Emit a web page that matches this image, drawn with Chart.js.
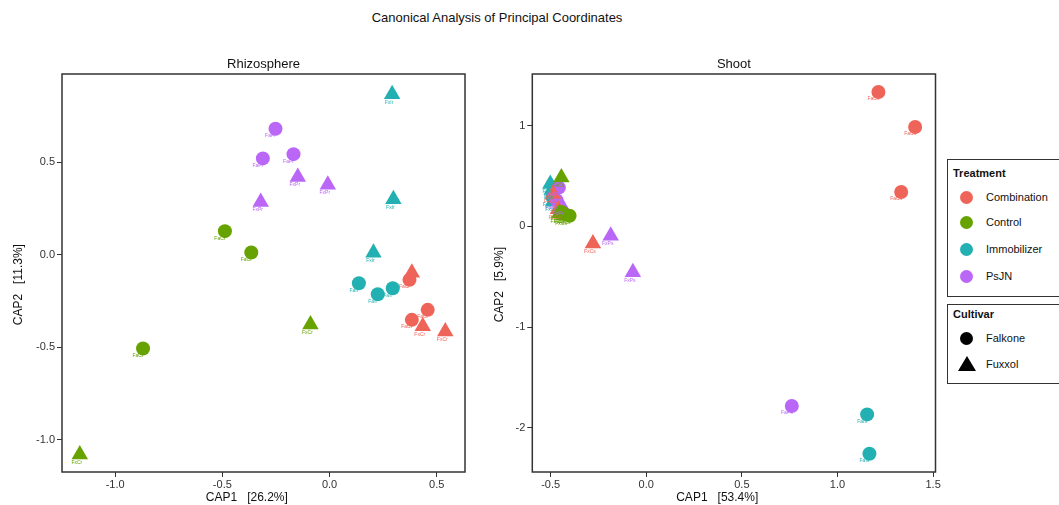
<!DOCTYPE html>
<html>
<head>
<meta charset="utf-8">
<script src="https://cdn.jsdelivr.net/npm/chart.js@4/dist/chart.umd.min.js"></script>
<style>
body { margin:0; width:1059px; height:505px; overflow:hidden; background:#fff; position:relative; font-family:"Liberation Sans", Arial, sans-serif; color:#111; }
#main { position:absolute; top:10px; left:0; width:994px; text-align:center; font-size:13px; }
canvas { position:absolute; top:40px; }
#rhizo { left:0; }
#shoot { left:480px; }
.box { position:absolute; left:947px; width:130px; border:1px solid #333; font-size:11px; }
.box b { position:absolute; left:5px; font-size:11px; }
.item { position:absolute; left:38px; }
.dot { position:absolute; left:12px; width:13px; height:13px; border-radius:50%; }
.tri { position:absolute; left:10px; width:0; height:0; border-left:9px solid transparent; border-right:9px solid transparent; border-bottom:15px solid #000; }
</style>
</head>
<body>
<div id="main">Canonical Analysis of Principal Coordinates</div>
<canvas id="rhizo" width="475" height="465"></canvas>
<canvas id="shoot" width="465" height="465"></canvas>

<div class="box" style="top:159px;height:136px;">
  <b style="top:7px;">Treatment</b>
  <div class="dot" style="top:31px;background:#EF6459"></div><div class="item" style="top:31px;">Combination</div>
  <div class="dot" style="top:56px;background:#66A200"></div><div class="item" style="top:56px;">Control</div>
  <div class="dot" style="top:83px;background:#22B0B2"></div><div class="item" style="top:83px;">Immobilizer</div>
  <div class="dot" style="top:110px;background:#BA66F7"></div><div class="item" style="top:110px;">PsJN</div>
</div>
<div class="box" style="top:304px;height:78px;">
  <b style="top:3px;">Cultivar</b>
  <div class="dot" style="top:27px;background:#000"></div><div class="item" style="top:27px;">Falkone</div>
  <div class="tri" style="top:51px;"></div><div class="item" style="top:53px;">Fuxxol</div>
</div>

<script>
var treatments = ['Combination', 'Control', 'Immobilizer', 'PsJN'];
var colours = ['#EF6459', '#66A200', '#22B0B2', '#BA66F7'];

// Rhizosphere
var rhizoX = [0.373, 0.384, 0.458, 0.384, 0.435, 0.540,
              -0.488, -0.365, -0.870, -0.089, -1.165,
              0.137, 0.225, 0.295, 0.292, 0.298, 0.205,
              -0.252, -0.311, -0.168, -0.148, -0.008, -0.321];
var rhizoY = [-0.135, -0.351, -0.297, -0.097, -0.385, -0.414,
              0.128, 0.013, -0.506, -0.376, -1.079,
              -0.153, -0.213, -0.180, 0.868, 0.300, 0.011,
              0.681, 0.521, 0.544, 0.420, 0.379, 0.285];
var rhizoTrt = ['Combination', 'Combination', 'Combination', 'Combination', 'Combination', 'Combination',
                'Control', 'Control', 'Control', 'Control', 'Control',
                'Immobilizer', 'Immobilizer', 'Immobilizer', 'Immobilizer', 'Immobilizer', 'Immobilizer',
                'PsJN', 'PsJN', 'PsJN', 'PsJN', 'PsJN', 'PsJN'];
var rhizoCul = ['Falkone', 'Falkone', 'Falkone', 'Fuxxol', 'Fuxxol', 'Fuxxol',
                'Falkone', 'Falkone', 'Falkone', 'Fuxxol', 'Fuxxol',
                'Falkone', 'Falkone', 'Falkone', 'Fuxxol', 'Fuxxol', 'Fuxxol',
                'Falkone', 'Falkone', 'Falkone', 'Fuxxol', 'Fuxxol', 'Fuxxol'];

// Shoot
var shootX = [1.214, 1.406, 1.333, -0.279, -0.488, -0.462,
              -0.444, -0.427, -0.401, -0.444, -0.455, -0.430,
              1.155, 1.167, -0.490, -0.502, -0.488, -0.495,
              0.761, -0.457, -0.470, -0.186, -0.070, -0.444];
var shootY = [1.334, 0.987, 0.341, -0.170, 0.320, 0.170,
              0.142, 0.120, 0.105, 0.485, 0.130, 0.110,
              -1.868, -2.258, 0.290, 0.420, 0.245, 0.360,
              -1.785, 0.384, 0.260, -0.093, -0.457, 0.210];
var shootTrt = ['Combination', 'Combination', 'Combination', 'Combination', 'Combination', 'Combination',
                'Control', 'Control', 'Control', 'Control', 'Control', 'Control',
                'Immobilizer', 'Immobilizer', 'Immobilizer', 'Immobilizer', 'Immobilizer', 'Immobilizer',
                'PsJN', 'PsJN', 'PsJN', 'PsJN', 'PsJN', 'PsJN'];
var shootCul = ['Falkone', 'Falkone', 'Falkone', 'Fuxxol', 'Fuxxol', 'Fuxxol',
                'Falkone', 'Falkone', 'Falkone', 'Fuxxol', 'Fuxxol', 'Fuxxol',
                'Falkone', 'Falkone', 'Falkone', 'Fuxxol', 'Fuxxol', 'Fuxxol',
                'Falkone', 'Falkone', 'Falkone', 'Fuxxol', 'Fuxxol', 'Fuxxol'];

var rhizoXTicks = [-1.0, -0.5, 0.0, 0.5];
var rhizoYTicks = [-1.0, -0.5, 0.0, 0.5];
var shootXTicks = [-0.5, 0.0, 0.5, 1.0, 1.5];
var shootYTicks = [-2, -1, 0, 1];

var FONT = '"Liberation Sans", Arial, sans-serif';
var drawOrder = ['Immobilizer', 'PsJN', 'Combination', 'Control'];

// box round the plot area + the panel title
var framePlugin = {
    id: 'frame',
    afterDraw: function(chart) {
        var a = chart.chartArea, ctx = chart.ctx;
        ctx.save();
        ctx.strokeStyle = '#333';
        ctx.lineWidth = 1.5;
        ctx.strokeRect(a.left, a.top, a.right - a.left, a.bottom - a.top);
        ctx.fillStyle = '#111';
        ctx.font = '13px ' + FONT;
        ctx.textAlign = 'center';
        ctx.textBaseline = 'middle';
        ctx.fillText(chart.options.panelTitle, (a.left + a.right) / 2, a.top - 10);
        ctx.restore();
    }
};

// tiny sample labels under the points
var sampleLabels = {
    id: 'sampleLabels',
    afterDatasetsDraw: function(chart) {
        var ctx = chart.ctx;
        ctx.save();
        ctx.font = '5px ' + FONT;
        ctx.textAlign = 'center';
        ctx.textBaseline = 'middle';
        chart.data.datasets.forEach(function(ds, i) {
            ctx.fillStyle = ds.backgroundColor;
            chart.getDatasetMeta(i).data.forEach(function(el) {
                var tri = ds.pointStyle === 'triangle';
                ctx.fillText(ds.sampleText, el.x - (tri ? 3 : 5), el.y + (tri ? 8 : 7));
            });
        });
        ctx.restore();
    }
};

function makePanel(id, title, xs, ys, trt, cul, suffix, xr, yr, xTicks, yTicks, xDec, yDec, xTitle, yTitle, yAxisW, yTitlePad, rightPad) {
    var datasets = [];
    drawOrder.forEach(function(t) {
        var c = colours[treatments.indexOf(t)];
        ['Falkone', 'Fuxxol'].forEach(function(cv) {
            var pts = [];
            for (var i = 0; i < xs.length; i++) {
                if (trt[i] === t && cul[i] === cv) pts.push({x: xs[i], y: ys[i]});
            }
            datasets.push({
                label: t + ' ' + cv,
                data: pts,
                backgroundColor: c,
                borderColor: c,
                borderWidth: 0,
                pointStyle: cv === 'Falkone' ? 'circle' : 'triangle',
                pointRadius: cv === 'Falkone' ? 7 : 9.5,
                pointHoverRadius: cv === 'Falkone' ? 7 : 9.5,
                sampleText: (cv === 'Falkone' ? 'Fa' : 'Fx') + t.charAt(0) + suffix
            });
        });
    });
    datasets.reverse();

    return new Chart(document.getElementById(id), {
        type: 'scatter',
        data: { datasets: datasets },
        plugins: [framePlugin, sampleLabels],
        options: {
            panelTitle: title,
            responsive: false,
            animation: false,
            devicePixelRatio: 1,
            events: [],
            layout: { padding: { top: 34, right: rightPad, left: 0, bottom: 0 } },
            plugins: { legend: { display: false }, tooltip: { enabled: false } },
            scales: {
                x: {
                    type: 'linear', min: xr[0], max: xr[1],
                    afterBuildTicks: function(s) { s.ticks = xTicks.map(function(v) { return {value: v}; }); },
                    afterFit: function(s) { s.height = 33; },
                    border: { display: false },
                    grid: { drawOnChartArea: false, drawTicks: true, tickLength: 5, color: '#333' },
                    ticks: { font: { size: 11, family: FONT }, color: '#333', padding: 1, maxRotation: 0,
                             callback: function(v) { return Number(v).toFixed(xDec); } },
                    title: { display: true, text: xTitle, font: { size: 12, family: FONT }, color: '#111', padding: 0 }
                },
                y: {
                    type: 'linear', min: yr[0], max: yr[1],
                    afterBuildTicks: function(s) { s.ticks = yTicks.map(function(v) { return {value: v}; }); },
                    afterFit: function(s) { s.width = yAxisW; },
                    border: { display: false },
                    grid: { drawOnChartArea: false, drawTicks: true, tickLength: 5, color: '#333' },
                    ticks: { font: { size: 11, family: FONT }, color: '#333', padding: 2,
                             callback: function(v) { return Number(v).toFixed(yDec); } },
                    title: { display: true, text: yTitle, font: { size: 12, family: FONT }, color: '#111', padding: { top: yTitlePad, bottom: 0 } }
                }
            }
        }
    });
}

makePanel('rhizo', 'Rhizosphere', rhizoX, rhizoY, rhizoTrt, rhizoCul, 'r',
          [-1.248, 0.632], [-1.173, 0.977], rhizoXTicks, rhizoYTicks, 1, 1,
          'CAP1   [26.2%]          ', 'CAP2   [11.3%]       ', 62, 11, 10);
makePanel('shoot', 'Shoot', shootX, shootY, shootTrt, shootCul, 's',
          [-0.596, 1.5125], [-2.44, 1.513], shootXTicks, shootYTicks, 1, 0,
          'CAP1   [53.4%]          ', 'CAP2   [5.9%]       ', 52.3, 12.8, 9.3);
</script>
</body>
</html>
